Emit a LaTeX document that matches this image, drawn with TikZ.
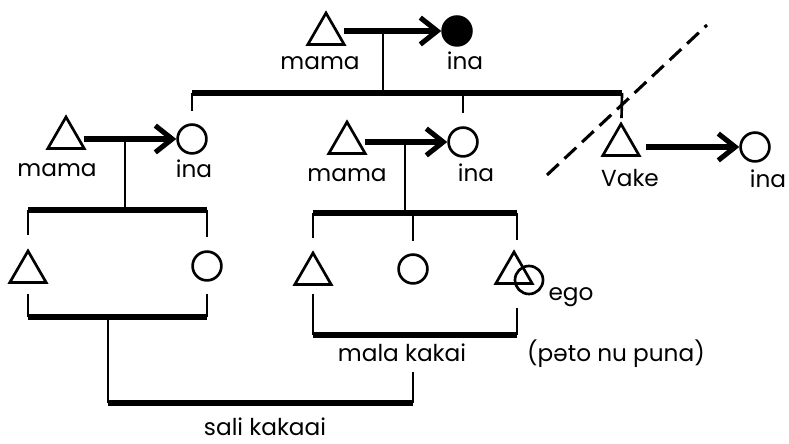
\documentclass[tikz,border=0pt]{standalone}
\usepackage{fontspec}
\setmainfont{Poppins}
\usetikzlibrary{shapes.geometric,arrows.meta}

\tikzset{
  male/.style={draw, regular polygon, regular polygon sides=3, minimum size=1.05cm, inner sep=0pt, line width=1.9pt},
  female/.style={draw, circle, minimum size=0.72cm, inner sep=0pt, line width=1.9pt},
  kin/.style={anchor=base, inner sep=0pt, font=\fontsize{16.5}{17}\selectfont},
  bar/.style={line width=4pt},
  line/.style={line width=1.9pt},
  marry/.style={line width=3.6pt, -{Straight Barb[length=12pt,width=19pt]}},
  cut/.style={line width=2.2pt, dash pattern=on 0.4cm off 0.2cm},
}

\begin{document}
\begin{tikzpicture}[x=0.025cm, y=-0.025cm]
  \useasboundingbox (0,0) rectangle (789,444);

  % grandparents
  \node[male] (gmama) at (326,34) {};
  \node[female, fill] (gina) at (457,31) {};
  \node[kin] (gmamaL) at (320,70) {mama};
  \node[kin] (ginaL) at (465,70) {ina};
  \draw[marry, shorten <=3pt] (gmama.east |- gina) -- (gina);
  \coordinate (g1) at (383,32);
  \coordinate (g2) at (383,93);
  \coordinate (b1w) at (192,93);
  \coordinate (b1m) at (463,93);
  \coordinate (b1e) at (622,93);
  \draw[line] (g1) -- (g2);
  \draw[bar] (b1w) -- (b1e);

  % parents, left
  \node[male] (lmama) at (66,138) {};
  \node[female] (lina) at (192,139) {};
  \node[kin] (lmamaL) at (57,177) {mama};
  \node[kin] (linaL) at (194,178) {ina};
  \draw[line, shorten >=0.3cm] (b1w) -- (lina);
  \draw[marry, shorten <=3pt] (lmama.east |- lina) -- (lina);
  \coordinate (l1) at (125,139);
  \coordinate (l2) at (125,210);
  \coordinate (lbw) at (28,210);
  \coordinate (lbe) at (207,210);
  \draw[line] (l1) -- (l2);
  \draw[bar] (lbw) -- (lbe);

  % parents, middle
  \node[male] (mmama) at (347,143) {};
  \node[female] (mina) at (463,142) {};
  \node[kin] (mmamaL) at (347,182) {mama};
  \node[kin] (minaL) at (476,182) {ina};
  \draw[line, shorten >=0.33cm] (b1m) -- (mina);
  \draw[marry, shorten <=3pt] (mmama.east |- mina) -- (mina);
  \coordinate (m1) at (405,142);
  \coordinate (m2) at (405,213);
  \coordinate (mbw) at (313,213);
  \coordinate (mbe) at (517,213);
  \draw[line] (m1) -- (m2);
  \draw[bar] (mbw) -- (mbe);

  % parents, right
  \node[male] (vake) at (621,145) {};
  \node[female] (rina) at (755,147) {};
  \node[kin] (vakeL) at (630,187) {Vake};
  \node[kin] (rinaL) at (768,188) {ina};
  \draw[line, shorten >=0.1cm] (b1e) -- (vake);
  \draw[marry, shorten <=8pt] (vake.east |- rina) -- (rina);
  \coordinate (d1) at (547,175);
  \coordinate (d2) at (707,25);
  \draw[cut] (d1) -- (d2);

  % children, left
  \node[male] (lbro) at (28,272) {};
  \node[female] (lsis) at (207,266) {};
  \draw[line, shorten >=0.33cm] (lbw) -- (lbro);
  \draw[line, shorten >=0.33cm] (lbe) -- (lsis);
  \coordinate (sl) at (28,317);
  \coordinate (sr) at (207,317);
  \draw[line, shorten <=0.25cm] (lbro) -- (sl);
  \draw[line, shorten <=0.3cm] (lsis) -- (sr);
  \draw[bar] (sl) -- (sr);

  % children, middle
  \node[male] (mbro) at (313,274) {};
  \node[female] (msis) at (413,269) {};
  \node[male] (egot) at (514,273) {};
  \node[female, minimum size=0.7cm] (egoc) at (529,280) {};
  \node[kin] (egoL) at (571,301) {ego};
  \coordinate (mbm) at (413,213);
  \draw[line, shorten >=0.3cm] (mbw) -- (mbro);
  \draw[line, shorten >=0.3cm] (mbm) -- (msis);
  \coordinate (et) at (517,240);
  \draw[line] (mbe) -- (et);
  \coordinate (ml) at (313,335);
  \coordinate (mr) at (517,335);
  \coordinate (mrt) at (517,308);
  \draw[line, shorten <=0.2cm] (mbro) -- (ml);
  \draw[line] (mrt) -- (mr);
  \draw[bar] (ml) -- (mr);
  \node[kin] (malaL) at (402,362) {mala kakai};
  \node[kin] (patoL) at (616,362) {(pəto nu puna)};

  % sali kakaai
  \coordinate (s1) at (108,317);
  \coordinate (s2) at (108,403);
  \coordinate (s3) at (413,403);
  \coordinate (s4) at (413,372);
  \draw[line] (s1) -- (s2);
  \draw[bar] (s2) -- (s3);
  \draw[line] (s3) -- (s4);
  \node[kin] (saliL) at (265,436) {sali kakaai};
\end{tikzpicture}
\end{document}
